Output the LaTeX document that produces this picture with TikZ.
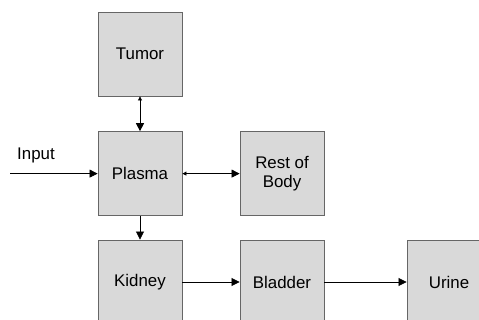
\documentclass[tikz,border=0pt]{standalone}
\usepackage{fontspec}
\setmainfont{Liberation Sans}
\usetikzlibrary{arrows.meta}
\tikzstyle{block}=[rectangle,draw=black!60,fill=gray!30,line width=0.6pt,minimum size=2.1cm,inner sep=0pt,align=center,font=\fontsize{12}{14}\selectfont]
\tikzstyle{flow}=[line width=0.5pt,-{Triangle[length=2mm,width=2mm]}]
\tikzstyle{twoway}=[line width=0.5pt,{Triangle[length=1mm,width=1mm]}-{Triangle[length=2mm,width=2mm]}]

\begin{document}
\begin{tikzpicture}
		\clip (0, 0) rectangle (11.975, -8);
		\node[block] (tumor) at (3.5, -1.35) {Tumor};
		\node[block] (plasma) at (3.5, -4.34) {Plasma};
		\node[block] (rest) at (7.05, -4.34) {Rest of\\Body};
		\node[block] (kidney) at (3.5, -7.05) {Kidney};
		\node[block] (bladder) at (7.05, -7.05) {Bladder};
		\node[block] (urine) at (11.225, -7.05) {Urine};
		
		\coordinate (in) at (0.25, -4.34);
		\node[font=\fontsize{12}{14}\selectfont] (input) at (0.9, -3.88) {Input};
		
		\draw[flow] (in) -- (plasma);
		\draw[twoway] (tumor) -- (plasma);
		\draw[twoway] (plasma) -- (rest);
		\draw[flow] (plasma) -- (kidney);
		\draw[flow] (kidney) -- (bladder);
		\draw[flow] (bladder) -- (urine);
		\end{tikzpicture}
\end{document}
